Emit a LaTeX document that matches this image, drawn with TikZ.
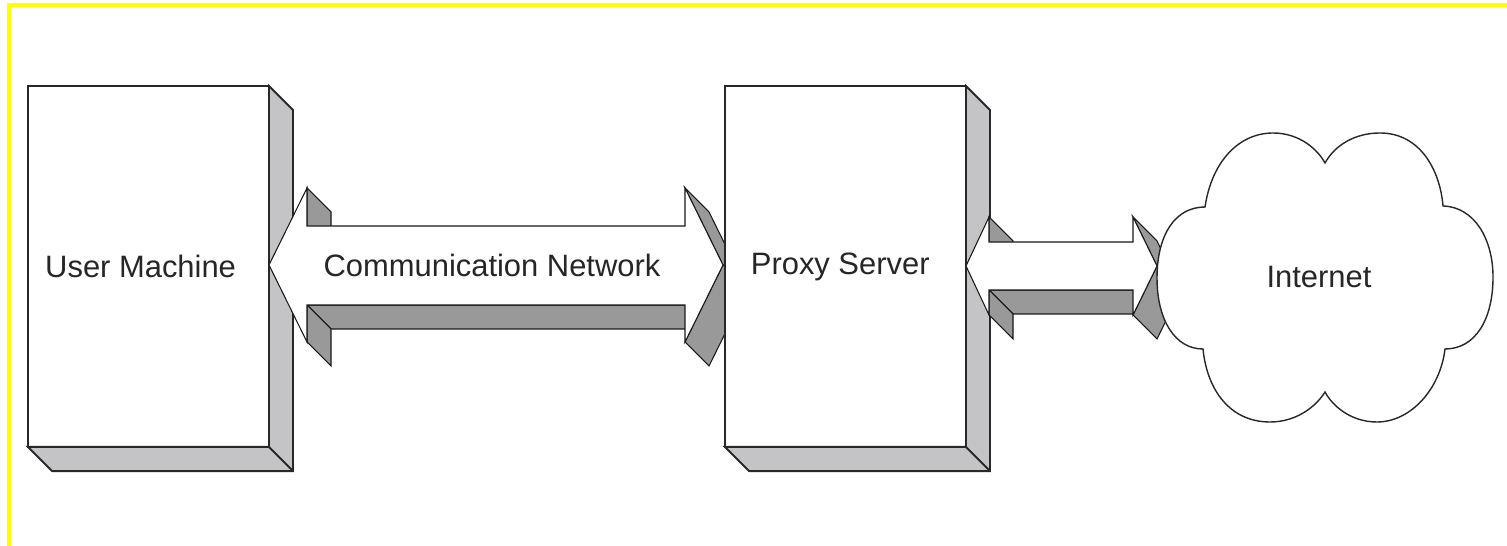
\documentclass[tikz,border=0pt]{standalone}
\usepackage{fontspec}
\setmainfont{Liberation Sans}
\definecolor{boxsidec}{RGB}{196,195,198}
\definecolor{arrsidec}{RGB}{153,153,153}
\definecolor{edgec}{RGB}{40,40,40}
\definecolor{bordery}{RGB}{255,255,0}
\begin{document}
\begin{tikzpicture}[x=0.02cm,y=-0.02cm,line join=miter,
  machine/.style={draw=edgec,line width=1.1pt,fill=white,minimum width=4.82cm,minimum height=7.22cm,inner sep=0pt,outer sep=0pt,font=\fontsize{17.6}{21}\selectfont,text=black!85},
  sideface/.style={draw=edgec,line width=1.1pt,fill=boxsidec},
  arrface/.style={draw=black!90,line width=0.6pt,fill=arrsidec},
  arrfront/.style={draw=black!90,line width=0.6pt,fill=white},
  lbl/.style={font=\fontsize{17.6}{21}\selectfont,text=black!85,inner sep=0pt},
  cloudline/.style={draw=edgec,line width=0.8pt,fill=white}]
\useasboundingbox (0,0) rectangle (1507,546);
\fill[white] (0,0) rectangle (1507,546);
\fill[bordery] (7,3) rectangle (1507,7);
\fill[bordery] (7,3) rectangle (11,546);

% User machine box
\node[machine] (um) at (148.5,266.5) {\hspace*{-9pt}User Machine};
\filldraw[sideface] (um.north east) -- ++(24,24) -- ++(0,361) -- ++(-241,0) -- (um.south west) -- (um.south east) -- cycle;
\draw[edgec,line width=1.1pt] (um.south east) -- ++(24,24);

% Communication network arrow (3D)
\filldraw[arrface] (307,188) -- (331,212) -- (331,250) -- (307,226) -- cycle;
\filldraw[arrface] (307,305) -- (685,305) -- (709,329) -- (331,329) -- cycle;
\filldraw[arrface] (307,305) -- (307,342) -- (331,366) -- (331,329) -- cycle;
\filldraw[arrface] (685,188) -- (723,265) -- (747,289) -- (709,212) -- cycle;
\filldraw[arrface] (723,265) -- (685,342) -- (709,366) -- (747,289) -- cycle;
\filldraw[arrfront] (269,265) -- (307,188) -- (307,226) -- (685,226) -- (685,188) -- (723,265)
  -- (685,342) -- (685,305) -- (307,305) -- (307,342) -- cycle;
\node[lbl] (cn) at (492,265) {Communication Network};

% Proxy server box
\node[machine] (ps) at (845.5,266.5) {\hspace*{-6pt}Proxy Server};
\filldraw[sideface] (ps.north east) -- ++(24,24) -- ++(0,361) -- ++(-241,0) -- (ps.south west) -- (ps.south east) -- cycle;
\draw[edgec,line width=1.1pt] (ps.south east) -- ++(24,24);

% Small arrow (3D)
\filldraw[arrface] (989,217) -- (1013,241) -- (1013,266) -- (989,242) -- cycle;
\filldraw[arrface] (989,290) -- (1133,290) -- (1157,314) -- (1013,314) -- cycle;
\filldraw[arrface] (989,290) -- (989,315) -- (1013,339) -- (1013,314) -- cycle;
\filldraw[arrface] (1133,217) -- (1157,266) -- (1181,290) -- (1157,241) -- cycle;
\filldraw[arrface] (1157,266) -- (1133,315) -- (1157,339) -- (1181,290) -- cycle;
\filldraw[arrfront] (966,266) -- (989,217) -- (989,242) -- (1133,242) -- (1133,217) -- (1157,266)
  -- (1133,315) -- (1133,290) -- (989,290) -- (989,315) -- cycle;

% Cloud
\filldraw[cloudline] (1205,207)
  .. controls (1212,160) and (1240,133) .. (1273,133)
  .. controls (1300,133) and (1318,150) .. (1325,163)
  .. controls (1335,145) and (1355,133) .. (1380,133)
  .. controls (1420,133) and (1440,170) .. (1443,206)
  .. controls (1475,207) and (1493,240) .. (1493,277)
  .. controls (1493,320) and (1475,349) .. (1445,349)
  .. controls (1440,390) and (1410,422) .. (1377,422)
  .. controls (1350,422) and (1332,405) .. (1325,392)
  .. controls (1315,408) and (1295,422) .. (1270,422)
  .. controls (1230,422) and (1207,390) .. (1203,349)
  .. controls (1175,349) and (1157,320) .. (1157,278)
  .. controls (1157,235) and (1175,207) .. (1205,207) -- cycle;
\node[lbl] (inet) at (1319,277) {Internet};
\end{tikzpicture}
\end{document}
